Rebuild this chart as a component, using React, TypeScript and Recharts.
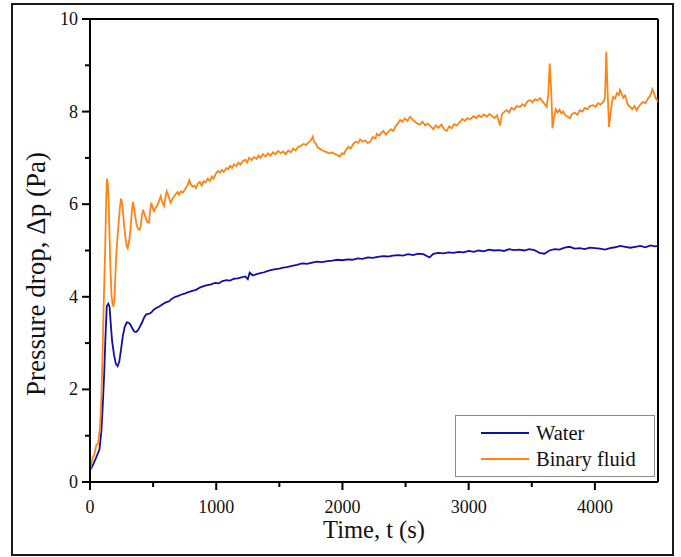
import { LineChart, Line, XAxis, YAxis, ReferenceLine } from "recharts"

// Water run: time (s) and pressure drop (Pa)
const waterTime = [
  0, 20, 40, 60, 75, 90, 100, 112, 122, 133, 145, 155, 165, 175, 190, 205, 219, 232, 245, 260,
  275, 292, 307, 320, 335, 350, 365, 380, 395, 413, 430, 445, 465, 485, 505, 525, 550, 575, 600, 625,
  650, 675, 700, 725, 750, 780, 810, 840, 870, 900, 930, 960, 990, 1020, 1050, 1080, 1110, 1140, 1170, 1200,
  1230, 1250, 1265, 1290, 1320, 1350, 1380, 1410, 1440, 1470, 1500, 1530, 1560, 1600, 1640, 1680, 1720, 1760, 1800, 1840,
  1880, 1920, 1960, 2000, 2040, 2080, 2120, 2160, 2200, 2240, 2280, 2320, 2360, 2400, 2440, 2480, 2520, 2560, 2600, 2640,
  2690, 2720, 2760, 2800, 2840, 2880, 2920, 2960, 3000, 3040, 3080, 3120, 3160, 3200, 3240, 3280, 3320, 3360, 3400, 3440,
  3480, 3520, 3560, 3600, 3640, 3680, 3720, 3760, 3800, 3840, 3880, 3920, 3960, 4000, 4040, 4080, 4120, 4160, 4200, 4240,
  4280, 4320, 4360, 4400, 4440, 4480, 4500,
]
const waterDrop = [
  0.25, 0.35, 0.47, 0.6, 0.7, 1.1, 1.6, 2.3, 3.1, 3.8, 3.85, 3.78, 3.4, 3.05, 2.75, 2.55, 2.5, 2.6, 2.85, 3.15,
  3.35, 3.45, 3.44, 3.4, 3.32, 3.25, 3.24, 3.28, 3.35, 3.45, 3.56, 3.62, 3.63, 3.66, 3.72, 3.76, 3.79, 3.84, 3.88, 3.9,
  3.96, 4.0, 4.02, 4.05, 4.07, 4.1, 4.13, 4.15, 4.2, 4.23, 4.25, 4.27, 4.3, 4.29, 4.34, 4.36, 4.35, 4.39, 4.4, 4.42,
  4.44, 4.38, 4.52, 4.46, 4.49, 4.51, 4.53, 4.56, 4.58, 4.6, 4.61, 4.63, 4.64, 4.67, 4.69, 4.72, 4.71, 4.74, 4.76, 4.75,
  4.77, 4.78, 4.8, 4.79, 4.81, 4.8, 4.83, 4.82, 4.85, 4.84, 4.86, 4.88, 4.87, 4.89, 4.9, 4.89, 4.92, 4.9, 4.93, 4.92,
  4.85, 4.93, 4.95, 4.94, 4.96, 4.95, 4.97, 4.96, 4.99, 4.97, 5.0, 4.98, 5.02, 5.0, 5.01, 4.99, 5.03, 5.01, 5.02, 5.0,
  5.03, 5.01, 4.95, 4.93, 5.0, 5.03, 5.02, 5.06, 5.08, 5.04, 5.05, 5.03, 5.06, 5.05, 5.04, 5.02, 5.05, 5.07, 5.1, 5.08,
  5.06, 5.08, 5.1, 5.07, 5.11, 5.09, 5.1,
]

// Binary fluid run: time (s) and pressure drop (Pa)
const binaryTime = [
  0, 20, 35, 50, 65, 80, 90, 100, 110, 120, 128, 134, 141, 148, 155, 162, 170, 179, 186, 193,
  200, 208, 218, 227, 236, 245, 253, 261, 270, 280, 290, 299, 310, 320, 330, 339, 348, 355, 366, 379,
  390, 400, 411, 421, 430, 440, 452, 467, 476, 485, 495, 507, 520, 533, 545, 560, 572, 587, 598, 608,
  620, 630, 640, 652, 667, 680, 693, 705, 720, 735, 747, 760, 775, 787, 800, 815, 827, 840, 855, 870,
  885, 900, 915, 933, 950, 965, 980, 995, 1013, 1030, 1045, 1060, 1080, 1093, 1110, 1125, 1140, 1160, 1175, 1190,
  1210, 1230, 1245, 1260, 1280, 1300, 1320, 1335, 1350, 1370, 1390, 1410, 1430, 1450, 1470, 1490, 1510, 1530, 1550, 1570,
  1590, 1610, 1630, 1650, 1670, 1690, 1710, 1730, 1750, 1765, 1775, 1790, 1805, 1820, 1840, 1860, 1880, 1900, 1920, 1940,
  1960, 1980, 1996, 2010, 2030, 2048, 2065, 2085, 2105, 2125, 2140, 2160, 2180, 2200, 2220, 2240, 2260, 2273, 2290, 2310,
  2325, 2345, 2365, 2385, 2404, 2420, 2440, 2457, 2475, 2495, 2515, 2536, 2555, 2575, 2595, 2615, 2635, 2655, 2675, 2700,
  2720, 2740, 2760, 2785, 2805, 2826, 2845, 2865, 2885, 2905, 2932, 2950, 2970, 2990, 3010, 3037, 3060, 3080, 3100, 3120,
  3143, 3165, 3185, 3205, 3225, 3248, 3265, 3285, 3301, 3320, 3340, 3360, 3380, 3407, 3425, 3445, 3465, 3486, 3505, 3525,
  3545, 3565, 3585, 3605, 3618, 3630, 3642, 3655, 3664, 3675, 3690, 3705, 3720, 3735, 3749, 3765, 3780, 3802, 3820, 3840,
  3860, 3881, 3900, 3920, 3940, 3960, 3987, 4005, 4025, 4045, 4066, 4080, 4090, 4100, 4112, 4122, 4135, 4145, 4160, 4175,
  4190, 4198, 4210, 4225, 4240, 4255, 4264, 4280, 4295, 4315, 4330, 4345, 4360, 4382, 4400, 4420, 4440, 4455, 4465, 4480,
  4490, 4500,
]
const binaryDrop = [
  0.25, 0.52, 0.6, 0.8, 0.83, 1.2, 1.8, 2.85, 4.0, 5.0, 6.1, 6.55, 6.45, 6.05, 5.3, 4.6, 4.05, 3.82, 3.8, 3.95,
  4.4, 4.9, 5.3, 5.6, 5.9, 6.12, 6.05, 5.85, 5.55, 5.3, 5.1, 5.05, 5.2, 5.45, 5.8, 6.05, 5.95, 5.8, 5.6, 5.48,
  5.45, 5.5, 5.75, 5.88, 5.8, 5.72, 5.62, 5.6, 5.85, 6.03, 5.95, 5.85, 5.92, 5.97, 6.05, 6.17, 6.05, 5.96, 6.15, 6.28,
  6.2, 6.1, 6.03, 6.12, 6.17, 6.22, 6.26, 6.2, 6.28, 6.25, 6.3, 6.35, 6.42, 6.52, 6.42, 6.38, 6.4, 6.35, 6.45, 6.48,
  6.4, 6.5, 6.47, 6.55, 6.5, 6.6, 6.55, 6.65, 6.72, 6.68, 6.74, 6.7, 6.78, 6.75, 6.83, 6.78, 6.86, 6.82, 6.9, 6.85,
  6.93, 6.96, 6.9, 7.0, 6.95, 7.02, 6.98, 7.05, 7.0, 7.08, 7.03, 7.1, 7.05, 7.12, 7.08, 7.15, 7.1, 7.14, 7.08, 7.16,
  7.12, 7.2, 7.16, 7.24, 7.26, 7.3, 7.28, 7.33, 7.38, 7.46, 7.35, 7.3, 7.22, 7.2, 7.16, 7.14, 7.12, 7.1, 7.12, 7.08,
  7.06, 7.03, 7.1, 7.08, 7.18, 7.24, 7.2, 7.3, 7.35, 7.33, 7.4, 7.35, 7.38, 7.32, 7.35, 7.45, 7.42, 7.52, 7.48, 7.55,
  7.58, 7.5, 7.57, 7.62, 7.58, 7.68, 7.75, 7.82, 7.78, 7.85, 7.8, 7.89, 7.83, 7.78, 7.74, 7.72, 7.78, 7.7, 7.74, 7.68,
  7.62, 7.7, 7.65, 7.72, 7.62, 7.58, 7.68, 7.64, 7.73, 7.7, 7.78, 7.84, 7.8, 7.86, 7.83, 7.9, 7.86, 7.92, 7.88, 7.94,
  7.89, 7.95, 7.9, 7.86, 7.92, 7.7, 7.95, 8.0, 8.03, 7.98, 8.08, 8.04, 8.12, 8.1, 8.16, 8.12, 8.22, 8.25, 8.2, 8.27,
  8.24, 8.29, 8.22, 8.15, 8.1, 8.35, 9.04, 8.4, 7.64, 7.85, 8.05, 7.98, 8.04, 7.96, 8.0, 7.92, 7.9, 7.86, 7.95, 7.98,
  7.93, 8.03, 8.0, 8.08, 8.05, 8.12, 8.14, 8.1, 8.18, 8.15, 8.21, 8.3, 9.29, 8.5, 7.67, 7.9, 8.2, 8.32, 8.28, 8.4,
  8.36, 8.47, 8.4, 8.3, 8.35, 8.2, 8.14, 8.1, 8.05, 8.12, 8.03, 8.1, 8.15, 8.21, 8.18, 8.28, 8.35, 8.48, 8.42, 8.3,
  8.25, 8.21,
]

const xTicks = [0, 500, 1000, 1500, 2000, 2500, 3000, 3500, 4000]
const yTicks = [0, 1, 2, 3, 4, 5, 6, 7, 8, 9, 10]

const waterData = waterTime.map((t, i) => ({ t, dp: waterDrop[i] }))
const binaryData = binaryTime.map((t, i) => ({ t, dp: binaryDrop[i] }))

const FONT = "Liberation Serif, Times New Roman, DejaVu Serif, serif"
const WATER = "#1010a4"
const BINARY = "#ff8414"
const serif = { fontFamily: FONT }

const XTick = ({ x, y, payload }: any) => {
  const major = payload.value % 1000 === 0
  return (
    <g>
      <line x1={x} y1={y} x2={x} y2={y + (major ? 8 : 5)} stroke="#000" strokeWidth={2} />
      {major && (
        <text x={x} y={y + 31} textAnchor="middle" style={serif} fontSize={18} fill="#111">
          {payload.value}
        </text>
      )}
    </g>
  )
}

const YTick = ({ x, y, payload }: any) => {
  const major = payload.value % 2 === 0
  return (
    <g>
      <line x1={x} y1={y} x2={x - (major ? 8 : 5)} y2={y} stroke="#000" strokeWidth={2} />
      {major && (
        <text x={x - 12} y={y + 6} textAnchor="end" style={serif} fontSize={18} fill="#111">
          {payload.value}
        </text>
      )}
    </g>
  )
}

export default function App() {
  return (
    <div style={{ position: "absolute", left: 0, top: 0, width: 681, height: 557, background: "#fff", ...serif }}>
      <div
        style={{
          position: "absolute",
          left: 11,
          top: 3,
          width: 663,
          height: 553,
          border: "2.5px solid #1a1a1a",
          boxSizing: "border-box",
        }}
      />
      <div style={{ position: "absolute", left: 0, top: 0 }}>
        <LineChart width={681} height={557} margin={{ top: 19, right: 23, bottom: 0, left: 0 }}>
          <XAxis
            type="number"
            dataKey="t"
            domain={[0, 4500]}
            ticks={xTicks}
            allowDataOverflow
            height={75}
            tickSize={0}
            tickMargin={0}
            tickLine={false}
            tick={<XTick />}
            axisLine={{ stroke: "#000", strokeWidth: 2 }}
          />
          <YAxis
            type="number"
            dataKey="dp"
            domain={[0, 10]}
            ticks={yTicks}
            allowDataOverflow
            width={90}
            tickSize={0}
            tickMargin={0}
            tickLine={false}
            tick={<YTick />}
            axisLine={{ stroke: "#000", strokeWidth: 2 }}
          />
          <ReferenceLine y={10} stroke="#000" strokeWidth={2} />
          <ReferenceLine x={4500} stroke="#000" strokeWidth={2} />
          <Line
            data={waterData}
            dataKey="dp"
            name="Water"
            stroke={WATER}
            strokeWidth={1.8}
            dot={false}
            isAnimationActive={false}
          />
          <Line
            data={binaryData}
            dataKey="dp"
            name="Binary fluid"
            stroke={BINARY}
            strokeWidth={1.8}
            dot={false}
            isAnimationActive={false}
          />
        </LineChart>
      </div>
      <svg width={681} height={557} style={{ position: "absolute", left: 0, top: 0, pointerEvents: "none" }}>
        <text x={374} y={538} textAnchor="middle" style={serif} fontSize={24.5} fill="#111">
          Time, t (s)
        </text>
        <text
          x={0}
          y={0}
          transform="translate(45 274) rotate(-90)"
          textAnchor="middle"
          style={serif}
          fontSize={27}
          fill="#111"
        >
          Pressure drop, Δp (Pa)
        </text>
      </svg>
      <div
        style={{
          position: "absolute",
          left: 455,
          top: 415,
          width: 200,
          height: 62,
          border: "1px solid #8a8a8a",
          boxSizing: "border-box",
          background: "#fff",
          fontSize: 20.5,
          color: "#111",
        }}
      >
        {[
          { label: "Water", color: WATER, top: 6 },
          { label: "Binary fluid", color: BINARY, top: 32 },
        ].map((item) => (
          <div key={item.label} style={{ position: "absolute", left: 25, top: item.top, display: "flex", alignItems: "center", height: 22 }}>
            <div style={{ width: 48, height: 2, background: item.color }} />
            <span style={{ marginLeft: 7, lineHeight: "22px" }}>{item.label}</span>
          </div>
        ))}
      </div>
    </div>
  )
}
